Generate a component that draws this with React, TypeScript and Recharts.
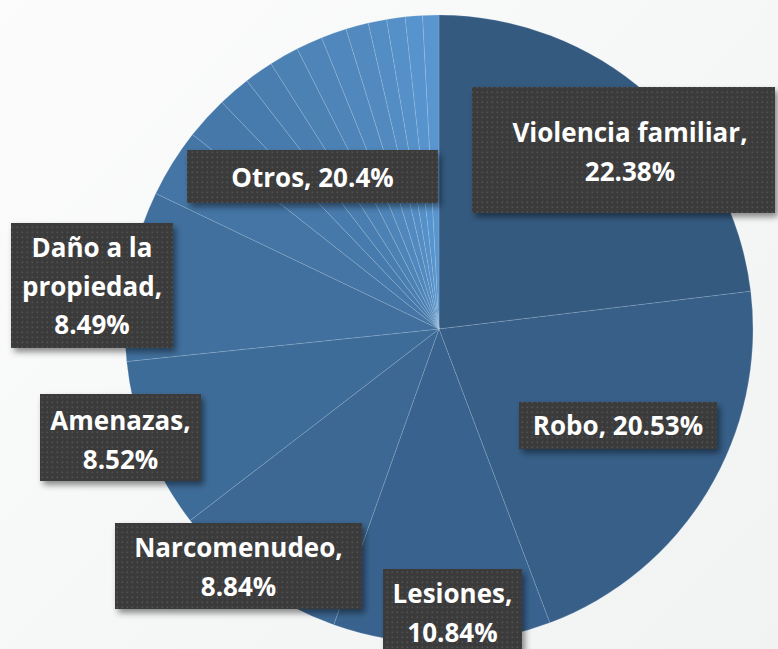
import React from "react";
import { PieChart, Pie, Cell } from "recharts";

const categories = ["Violencia familiar", "Robo", "Lesiones", "Narcomenudeo", "Amenazas", "Daño a la propiedad"];
const values = [22.38, 20.53, 10.84, 8.84, 8.52, 8.49];
const otrosValues = [3.42, 2.15, 1.62, 1.45, 1.48, 1.32, 1.27, 1.13, 0.92, 0.92, 0.86, 0.81];
const otrosName = "Otros";
const otrosPercent = "20.4";

const colors = [
  "#345a80", "#375f88", "#39638e", "#3c6893", "#3e6c98", "#41709e",
  "#4475a5", "#4678a9", "#487bad", "#4a7eb0", "#4c81b4", "#4e84b8",
  "#5087bc", "#528ac0", "#538dc4", "#5590c8", "#5793cc", "#5996d0",
];

// label layout relative to pie centre: box [x, y, w, h], text centre x, first baseline, wrap width
const labelLayout = [
  { box: [33, -242, 303, 126], tx: 191, ty: -187, wrap: 19 },
  { box: [80, 73, 198, 47], tx: 179, ty: 106, wrap: 12 },
  { box: [-56, 240, 139, 86], tx: 13.5, ty: 274, wrap: 9 },
  { box: [-324, 194, 247, 86], tx: -200.5, ty: 228, wrap: 13 },
  { box: [-399, 65, 161, 87], tx: -318.5, ty: 101, wrap: 9 },
  { box: [-428, -106, 162, 125], tx: -347, ty: -72, wrap: 10 },
  { box: [-252, -179, 251, 53], tx: -126.5, ty: -142, wrap: 12 },
];

const data = [
  ...categories.map((name, i) => ({ name, value: values[i], text: `${name}, ${values[i]}%` })),
  ...otrosValues.map((v, i) => ({ name: `${otrosName} ${i + 1}`, value: v, text: i === 0 ? `${otrosName}, ${otrosPercent}%` : "" })),
];

function wrapText(s: string, max: number): string[] {
  const words = s.split(" ");
  const lines: string[] = [];
  let cur = "";
  for (const w of words) {
    if (!cur) cur = w;
    else if ((cur + " " + w).length <= max) cur = cur + " " + w;
    else {
      lines.push(cur);
      cur = w;
    }
  }
  if (cur) lines.push(cur);
  return lines;
}

const LINE_H = 38.5;

const renderLabel = (props: any) => {
  const { cx, cy, index } = props;
  const defs =
    index === 0 ? (
      <defs>
        <pattern id="dots" width="5" height="5" patternUnits="userSpaceOnUse">
          <rect x="0" y="0" width="5" height="5" fill="#3b3b3b" />
          <rect x="1.5" y="1.5" width="1.6" height="1.6" fill="#535353" />
        </pattern>
        <filter id="boxShadow" x="-20%" y="-30%" width="140%" height="160%">
          <feDropShadow dx="3" dy="4" stdDeviation="3" floodColor="#000" floodOpacity="0.45" />
        </filter>
      </defs>
    ) : null;
  const layout = labelLayout[index];
  const text = data[index] ? data[index].text : "";
  if (!layout || !text) return <g>{defs}</g>;
  const [bx, by, bw, bh] = layout.box;
  const lines = wrapText(text, layout.wrap);
  return (
    <g>
      {defs}
      <rect x={cx + bx} y={cy + by} width={bw} height={bh} fill="#3b3b3b" filter="url(#boxShadow)" />
      <rect x={cx + bx} y={cy + by} width={bw} height={bh} fill="url(#dots)" />
      {lines.map((ln, i) => (
        <text
          key={i}
          x={cx + layout.tx}
          y={cy + layout.ty + i * LINE_H}
          textAnchor="middle"
          fill="#ffffff"
          fontFamily="'Open Sans', sans-serif"
          fontWeight={700}
          fontSize={26}
        >
          {ln}
        </text>
      ))}
    </g>
  );
};

export default function App() {
  return (
    <div
      style={{
        position: "absolute",
        left: 0,
        top: 0,
        width: 778,
        height: 649,
        overflow: "hidden",
        background: "linear-gradient(135deg, #fcfcfc 0%, #f6f7f7 50%, #f1f3f3 100%)",
      }}
    >
      <PieChart width={778} height={649} margin={{ top: 0, right: 0, bottom: 0, left: 0 }}>
        <Pie
          data={data}
          dataKey="value"
          nameKey="name"
          cx={439}
          cy={329}
          outerRadius={314}
          startAngle={90}
          endAngle={-270}
          stroke="rgba(200,220,240,0.3)"
          strokeWidth={0.6}
          label={renderLabel}
          labelLine={false}
          isAnimationActive={false}
        >
          {data.map((d, i) => (
            <Cell key={d.name} fill={colors[i]} />
          ))}
        </Pie>
      </PieChart>
    </div>
  );
}
